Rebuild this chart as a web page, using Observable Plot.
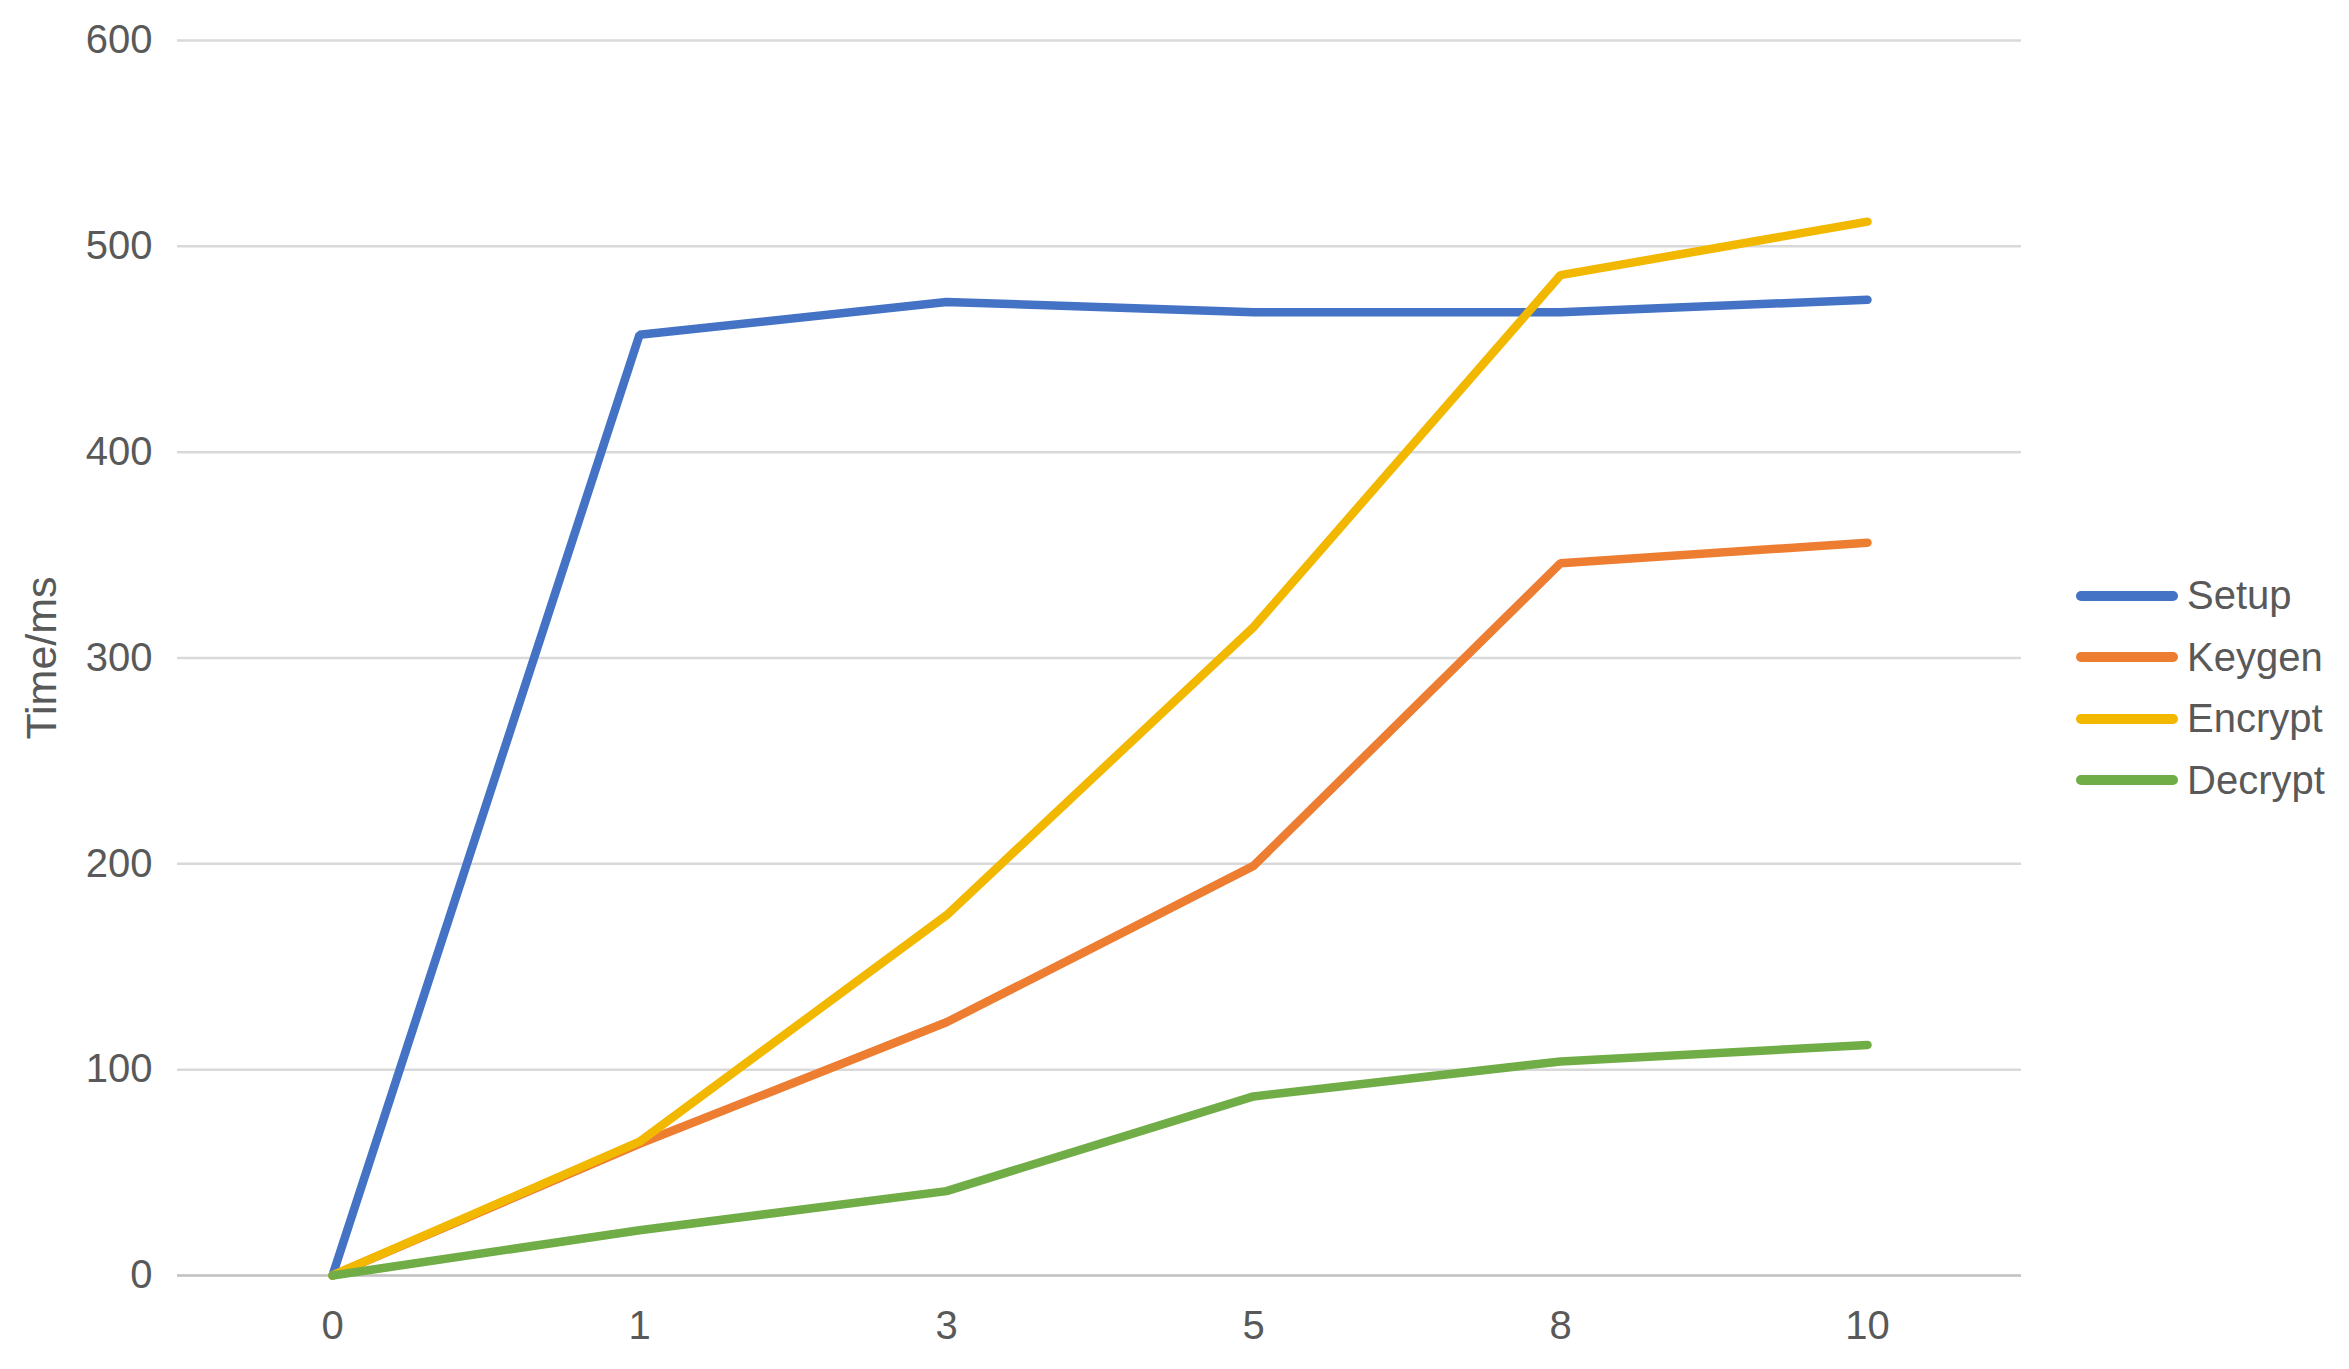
<!DOCTYPE html>
<html>
<head>
<meta charset="utf-8">
<script src="https://cdn.jsdelivr.net/npm/d3@7"></script>
<script src="https://cdn.jsdelivr.net/npm/@observablehq/plot@0.6"></script>
<style>
  html, body { margin: 0; padding: 0; background: #fff; }
  #wrap { position: relative; width: 2349px; height: 1369px; font-family: "Liberation Sans", Arial, sans-serif; }
  #legend { position: absolute; left: 2074px; top: 565px; color: #595959; font-size: 40px; }
  .row { display: flex; align-items: center; height: 61.5px; }
  .row svg { margin-right: 7px; }
</style>
</head>
<body>
<div id="wrap">
  <div id="chart"></div>
  <div id="legend"></div>
</div>
<script>
const categories = ["0", "1", "3", "5", "8", "10"];
const seriesNames = ["Setup", "Keygen", "Encrypt", "Decrypt"];
const seriesColors = ["#4472C4", "#ED7D31", "#F2B800", "#70AD47"];
const setup   = [0, 457, 473, 468, 468, 474];
const keygen  = [0, 64, 123, 199, 346, 356];
const encrypt = [0, 65, 175, 315, 486, 512];
const decrypt = [0, 22, 41, 87, 104, 112];
const yTicks = [0, 100, 200, 300, 400, 500, 600];

const seriesValues = [setup, keygen, encrypt, decrypt];
const data = [];
seriesNames.forEach((name, i) => {
  categories.forEach((c, j) => data.push({series: name, x: c, y: seriesValues[i][j]}));
});

const chart = Plot.plot({
  width: 2060,
  height: 1369,
  marginLeft: 177,
  marginRight: 39,
  marginTop: 40,
  marginBottom: 94,
  style: {fontFamily: "Liberation Sans, Arial, sans-serif", fontSize: "40px", color: "#595959", background: "#fff"},
  x: {type: "point", domain: categories, padding: 0.5},
  y: {domain: [0, 600]},
  color: {domain: seriesNames, range: seriesColors},
  marks: [
    Plot.gridY(yTicks, {stroke: "#d9d9d9", strokeOpacity: 1, strokeWidth: 2.5}),
    Plot.ruleY([0], {stroke: "#c4c4c4", strokeWidth: 2.5}),
    Plot.axisY(yTicks, {tickSize: 0, tickPadding: 25, label: null}),
    Plot.axisY({ticks: [], label: "Time/ms", labelArrow: "none", labelAnchor: "center", labelOffset: 152, fontSize: 43}),
    Plot.axisX({tickSize: 0, tickPadding: 35, label: null}),
    Plot.line(data, {x: "x", y: "y", z: "series", stroke: "series", strokeWidth: 8.5, strokeLinejoin: "miter", strokeLinecap: "round"})
  ]
});
document.getElementById("chart").appendChild(chart);

const legend = document.getElementById("legend");
seriesNames.forEach((name, i) => {
  const row = document.createElement("div");
  row.className = "row";
  row.innerHTML = `<svg width="106" height="14"><line x1="7" y1="7" x2="99" y2="7" stroke="${seriesColors[i]}" stroke-width="10" stroke-linecap="round"/></svg><span>${name}</span>`;
  legend.appendChild(row);
});
</script>
</body>
</html>
